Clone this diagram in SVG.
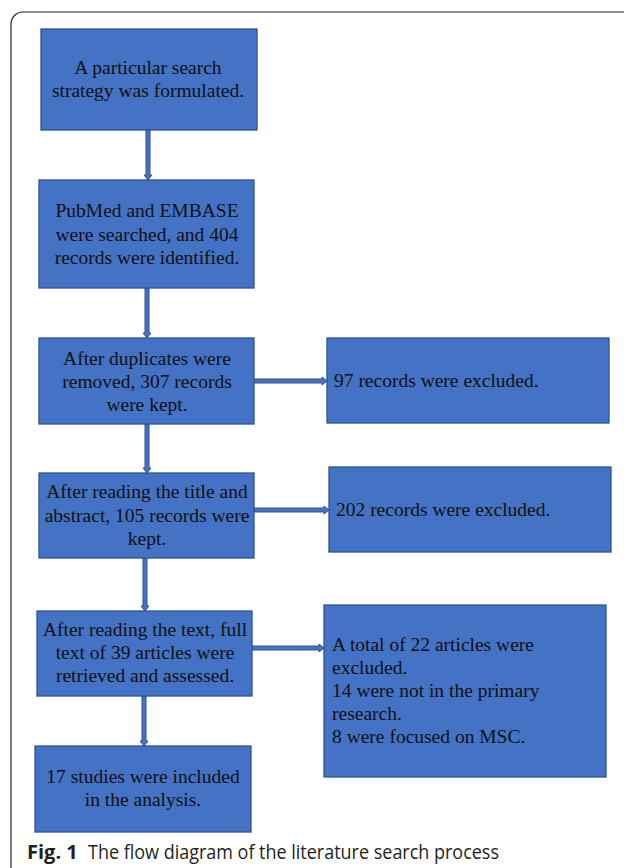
<svg xmlns="http://www.w3.org/2000/svg" width="624" height="868" viewBox="0 0 624 868">
<style>
.box{fill:#4472C4;stroke:#2F528F;stroke-width:1.3}
.t{font-family:"Liberation Serif","Times New Roman",serif;font-size:19.5px;fill:#111}
.c{text-anchor:middle}
.arr{fill:#4472C4;stroke:#2F528F;stroke-width:1}
.cap{font-family:"Open Sans","Noto Sans",sans-serif;font-size:20px;fill:#231f20}
</style>
<rect width="624" height="868" fill="#fff"/>
<path d="M11,868 V24 A12,12 0 0 1 23,12 H624" fill="none" stroke="#222" stroke-width="1.2"/>
<g id="connectors">
<polygon class="arr" points="146,130 150,130 150,175 152,175 148,180 144,175 146,175"/>
<polygon class="arr" points="145,288 149,288 149,333 151,333 147,338 143,333 145,333"/>
<polygon class="arr" points="145,424 149,424 149,468 151,468 147,473 143,468 145,468"/>
<polygon class="arr" points="143,558 147,558 147,606 149,606 145,611 141,606 143,606"/>
<polygon class="arr" points="142,696 146,696 146,741 148,741 144,746 140,741 142,741"/>
<polygon class="arr" points="254,379 322,379 322,377 327,381 322,385 322,383 254,383"/>
<polygon class="arr" points="254,508 324,508 324,506 329,510 324,514 324,512 254,512"/>
<polygon class="arr" points="252,646 319,646 319,644 324,648 319,652 319,650 252,650"/>
</g>
<g id="n1"><rect class="box" x="41" y="29" width="216" height="101"/>
<text class="t c" x="148" y="74">A particular search</text>
<text class="t c" x="148" y="97">strategy was formulated.</text></g>
<g id="n2"><rect class="box" x="39" y="180" width="215" height="108"/>
<text class="t c" x="147" y="217">PubMed and EMBASE</text>
<text class="t c" x="147" y="241">were searched, and 404</text>
<text class="t c" x="147" y="264">records were identified.</text></g>
<g id="n3"><rect class="box" x="39" y="338" width="215" height="86"/>
<text class="t c" x="147" y="365">After duplicates were</text>
<text class="t c" x="147" y="388">removed, 307 records</text>
<text class="t c" x="147" y="411">were kept.</text></g>
<g id="n4"><rect class="box" x="327" y="338" width="282" height="85"/>
<text class="t" x="334" y="387">97 records were excluded.</text></g>
<g id="n5"><rect class="box" x="39" y="473" width="215" height="85"/>
<text class="t c" x="147" y="498">After reading the title and</text>
<text class="t c" x="147" y="522">abstract, 105 records were</text>
<text class="t c" x="147" y="545">kept.</text></g>
<g id="n6"><rect class="box" x="329" y="467" width="282" height="85"/>
<text class="t" x="336" y="516">202 records were excluded.</text></g>
<g id="n7"><rect class="box" x="37" y="611" width="215" height="85"/>
<text class="t c" x="145" y="636">After reading the text, full</text>
<text class="t c" x="145" y="659">text of 39 articles were</text>
<text class="t c" x="145" y="682">retrieved and assessed.</text></g>
<g id="n8"><rect class="box" x="324" y="605" width="282" height="172"/>
<text class="t" x="332" y="651">A total of 22 articles were</text>
<text class="t" x="332" y="674">excluded.</text>
<text class="t" x="332" y="697">14 were not in the primary</text>
<text class="t" x="332" y="720">research.</text>
<text class="t" x="332" y="743">8 were focused on MSC.</text></g>
<g id="n9"><rect class="box" x="35" y="746" width="216" height="86"/>
<text class="t c" x="143" y="783">17 studies were included</text>
<text class="t c" x="143" y="806">in the analysis.</text></g>
<g id="caption">
<text class="cap" x="27" y="859" font-weight="bold">Fig. 1</text>
<text class="cap" x="88" y="859" textLength="411" lengthAdjust="spacingAndGlyphs">The flow diagram of the literature search process</text>
</g>
</svg>
